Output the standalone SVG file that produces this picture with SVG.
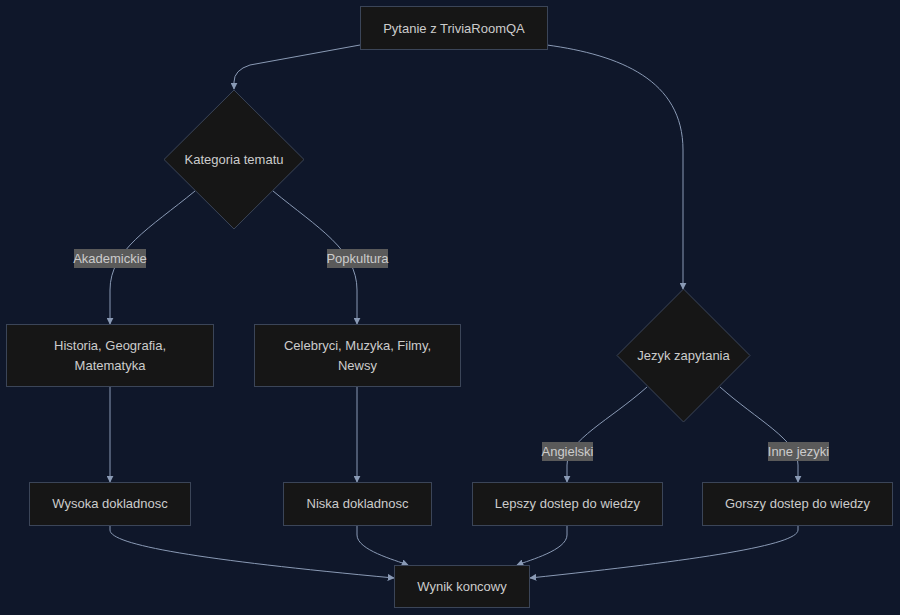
<svg xmlns="http://www.w3.org/2000/svg" width="900" height="615" viewBox="0 0 900 615">
<defs>
<style>
.bg{fill:#0f172a}
.n{fill:#161616;stroke:#3b4558;stroke-width:1}
.t{font-family:"Liberation Sans",Arial,sans-serif;font-size:13px;fill:#cccccc;text-anchor:middle;dominant-baseline:central}
.e{fill:none;stroke:#8a9ab5;stroke-width:1}
.lb{fill:#5a5a5a}
</style>
<marker id="ar" viewBox="0 0 10 10" refX="9" refY="5" markerWidth="7" markerHeight="7" orient="auto" markerUnits="userSpaceOnUse">
<path d="M0,0 L10,5 L0,10 z" fill="#8a9ab5"/>
</marker>
</defs>
<rect class="bg" x="0" y="0" width="900" height="615"/>
<g id="edges">
<path class="e" marker-end="url(#ar)" d="M360,45 L250,65 Q234,70 234,82 L234,89"/>
<path class="e" marker-end="url(#ar)" d="M547,45 C620,55 683,80 683,150 L683,289"/>
<path class="e" marker-end="url(#ar)" d="M195,191 C150,228 110,250 110,290 L110,324"/>
<path class="e" marker-end="url(#ar)" d="M273,191 C318,228 357,250 357,290 L357,324"/>
<path class="e" marker-end="url(#ar)" d="M110,387 L110,482"/>
<path class="e" marker-end="url(#ar)" d="M357,387 L357,482"/>
<path class="e" marker-end="url(#ar)" d="M647,387 C610,420 567,440 567,465 L567,482"/>
<path class="e" marker-end="url(#ar)" d="M720,387 C757,420 798,440 798,465 L798,482"/>
<path class="e" marker-end="url(#ar)" d="M110,525 L110,530 C110,545 200,560 394,578"/>
<path class="e" marker-end="url(#ar)" d="M357,525 L357,535 C357,550 395,560 408,565"/>
<path class="e" marker-end="url(#ar)" d="M567,525 L567,535 C567,550 530,560 517,565"/>
<path class="e" marker-end="url(#ar)" d="M798,525 L798,530 C798,545 700,560 530,578"/>
</g>
<g id="lbl-akademickie"><rect class="lb" x="74" y="249" width="72" height="19"/><text class="t" x="110" y="258.5">Akademickie</text></g>
<g id="lbl-popkultura"><rect class="lb" x="327" y="249" width="61" height="19"/><text class="t" x="357.5" y="258.5">Popkultura</text></g>
<g id="lbl-angielski"><rect class="lb" x="542" y="442" width="51" height="19"/><text class="t" x="567.5" y="451.5">Angielski</text></g>
<g id="lbl-inne"><rect class="lb" x="768" y="442" width="61" height="19"/><text class="t" x="798.5" y="451.5">Inne jezyki</text></g>
<g id="A"><rect class="n" x="360.5" y="6.5" width="187" height="43"/><text class="t" x="454" y="28">Pytanie z TriviaRoomQA</text></g>
<g id="B"><polygon class="n" points="234,90 304,159.5 234,229 164,159.5"/><text class="t" x="234" y="159.5">Kategoria tematu</text></g>
<g id="C"><polygon class="n" points="683.5,289 750,355.5 683.5,422 617,355.5"/><text class="t" x="683.5" y="355.5">Jezyk zapytania</text></g>
<g id="D"><rect class="n" x="6.5" y="324.5" width="207" height="62"/><text class="t" x="110" y="345.5">Historia, Geografia,</text><text class="t" x="110" y="365.5">Matematyka</text></g>
<g id="E"><rect class="n" x="254.5" y="324.5" width="206" height="62"/><text class="t" x="357.5" y="345.5">Celebryci, Muzyka, Filmy,</text><text class="t" x="357.5" y="365.5">Newsy</text></g>
<g id="F"><rect class="n" x="29.5" y="482.5" width="161" height="43"/><text class="t" x="110" y="503.5">Wysoka dokladnosc</text></g>
<g id="G"><rect class="n" x="283.5" y="482.5" width="148" height="43"/><text class="t" x="357.5" y="503.5">Niska dokladnosc</text></g>
<g id="H"><rect class="n" x="472.5" y="482.5" width="190" height="43"/><text class="t" x="567.5" y="503.5">Lepszy dostep do wiedzy</text></g>
<g id="I"><rect class="n" x="702.5" y="482.5" width="190" height="43"/><text class="t" x="797.5" y="503.5">Gorszy dostep do wiedzy</text></g>
<g id="J"><rect class="n" x="394.5" y="565.5" width="135" height="42"/><text class="t" x="462" y="586.5">Wynik koncowy</text></g>
</svg>
